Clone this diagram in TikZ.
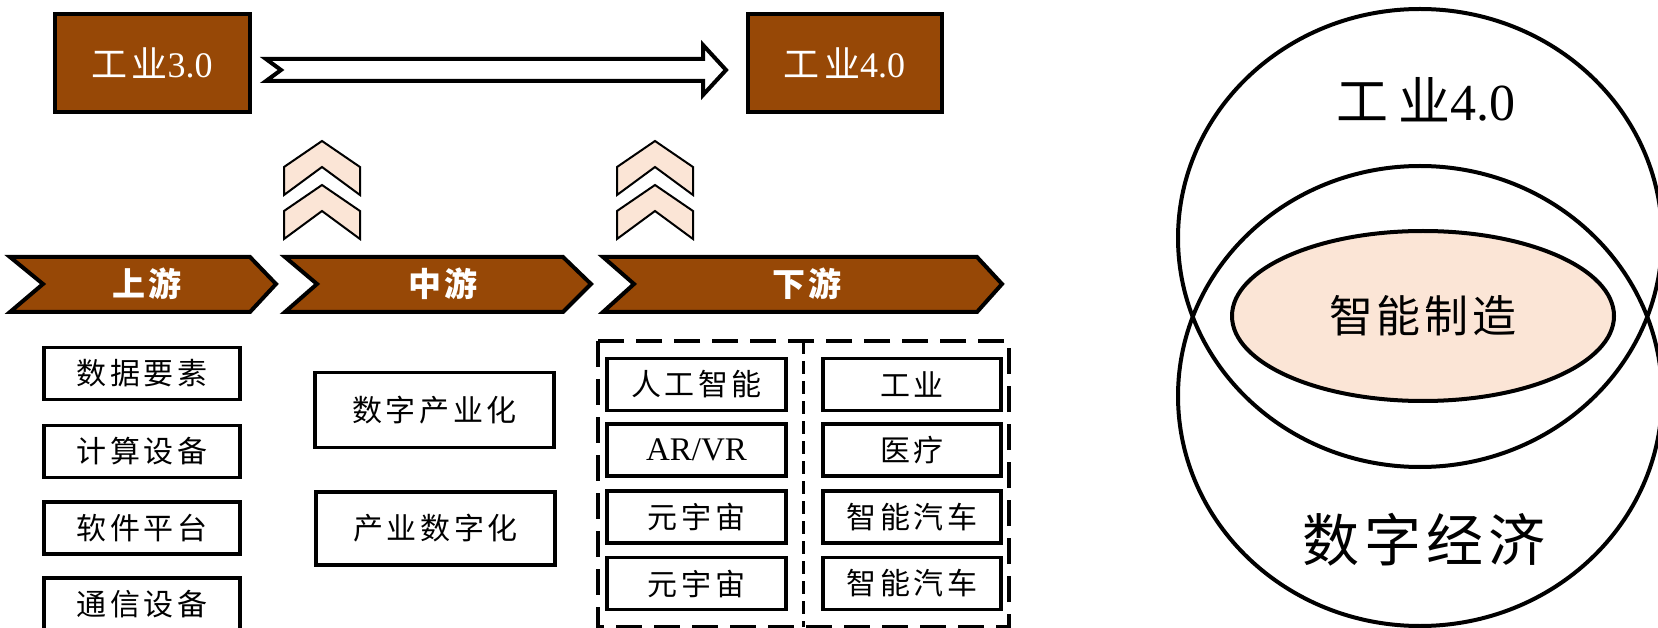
\documentclass[tikz,border=0pt]{standalone}
\usepackage{fontspec}
\setmainfont{Liberation Serif}
\newfontfamily\cjk{Noto Sans CJK SC}
\newfontfamily\cjkls{Noto Sans CJK SC}[LetterSpace=12]
\newfontfamily\cjkwide{Noto Sans CJK SC}[LetterSpace=18]
\newfontfamily\cjkmid{Noto Sans CJK SC}[LetterSpace=9]
\definecolor{brownc}{RGB}{151,72,6}
\definecolor{peach}{RGB}{251,229,214}
\tikzset{
  brownbox/.style={draw=black, line width=4pt, fill=brownc, text=white, inner sep=0pt, font=\fontsize{36}{40}\selectfont},
  itembox/.style={draw=black, line width=3.5pt, fill=white, inner sep=0pt, font=\fontsize{30}{34}\selectfont},
  procshape/.style={draw=black, line width=4pt, fill=brownc, line join=miter},
  proclabel/.style={text=white, inner sep=0pt, font=\fontsize{33}{36}\selectfont\cjkls\bfseries},
  upchev/.style={draw=black, line width=2pt, fill=peach, line join=miter},
  vennline/.style={draw=black, line width=4pt},
}
\begin{document}
\begin{tikzpicture}[x=1pt,y=-1pt]
\useasboundingbox (0,0) rectangle (1658,628);
% top boxes
\node[brownbox, minimum width=195pt, minimum height=98pt] (i3) at (152,63) {{\cjkls 工业}3.0};
\node[brownbox, minimum width=194pt, minimum height=98pt] (i4) at (844.5,63) {{\cjkls 工业}4.0};
% hollow block arrow
\draw[black, line width=4pt, fill=white, line join=miter]
  (266,59) -- (703,59) -- (703,45) -- (726,70) -- (703,95) -- (703,81) -- (266,81) -- (281,70) -- cycle;
% up chevrons
\foreach \cx in {322,655}{
  \foreach \a in {141,185}{
    \draw[upchev] (\cx,\a) -- (\cx+38,\a+26) -- (\cx+38,\a+54) -- (\cx,\a+26) -- (\cx-38,\a+54) -- (\cx-38,\a+26) -- cycle;
  }
}
% process chevrons
\draw[procshape] (10,257) -- (250,257) -- (276,284) -- (250,312) -- (10,312) -- (43,284) -- cycle;
\draw[procshape] (285,257) -- (563,257) -- (591,284) -- (563,312) -- (285,312) -- (317,284) -- cycle;
\draw[procshape] (603,257) -- (977,257) -- (1002,284) -- (977,312) -- (603,312) -- (634,284) -- cycle;
\node[proclabel] (up) at (147,284) {上游};
\node[proclabel] (mid) at (443,284) {中游};
\node[proclabel] (down) at (807,284) {下游};
% upstream boxes
\node[itembox, minimum width=196pt, minimum height=52pt] (u1) at (142,373.5) {\cjkls 数据要素};
\node[itembox, minimum width=196pt, minimum height=52pt] (u2) at (142,451.5) {\cjkls 计算设备};
\node[itembox, minimum width=196pt, minimum height=52pt] (u3) at (142,528) {\cjkls 软件平台};
\node[itembox, minimum width=196pt, minimum height=52pt] (u4) at (142,604) {\cjkls 通信设备};
% midstream boxes
\node[itembox, minimum width=239pt, minimum height=75pt] (m1) at (434.5,410) {\cjkls 数字产业化};
\node[itembox, minimum width=239pt, minimum height=73pt] (m2) at (435.5,528.5) {\cjkls 产业数字化};
% downstream dashed frame
\draw[black, line width=3.5pt, dash pattern=on 26pt off 12pt] (598,341) rectangle (1009,627);
\draw[black, line width=3pt, dash pattern=on 13pt off 7pt] (803,341) -- (803,627);
\node[itembox, minimum width=179pt, minimum height=52pt] (d1) at (696.5,384.5) {\cjkls 人工智能};
\node[itembox, minimum width=179pt, minimum height=52pt, font=\fontsize{33}{36}\selectfont] (d2) at (696.5,450) {AR/VR};
\node[itembox, minimum width=179pt, minimum height=52pt] (d3) at (696.5,517) {\cjkls 元宇宙};
\node[itembox, minimum width=179pt, minimum height=52pt] (d4) at (696.5,583.5) {\cjkls 元宇宙};
\node[itembox, minimum width=178pt, minimum height=52pt] (e1) at (912,384.5) {\cjkls 工业};
\node[itembox, minimum width=178pt, minimum height=52pt] (e2) at (912,450) {\cjkls 医疗};
\node[itembox, minimum width=178pt, minimum height=52pt] (e3) at (912,517) {\cjkls 智能汽车};
\node[itembox, minimum width=178pt, minimum height=52pt] (e4) at (912,583.5) {\cjkls 智能汽车};
% Venn
\draw[vennline] (1420,238) ellipse [x radius=242, y radius=229];
\draw[vennline] (1420,396) ellipse [x radius=242, y radius=230];
\draw[vennline, fill=peach] (1423,316) ellipse [x radius=191, y radius=85];
\node[inner sep=0pt, font=\fontsize{52}{56}\selectfont] (t4) at (1426,100) {{\cjkwide 工业}4.0};
\node[inner sep=0pt, font=\fontsize{57}{60}\selectfont] (de) at (1424,540) {\cjkmid 数字经济};
\node[inner sep=0pt, font=\fontsize{44}{48}\selectfont] (im) at (1423,316) {\cjkmid 智能制造};
\end{tikzpicture}
\end{document}
